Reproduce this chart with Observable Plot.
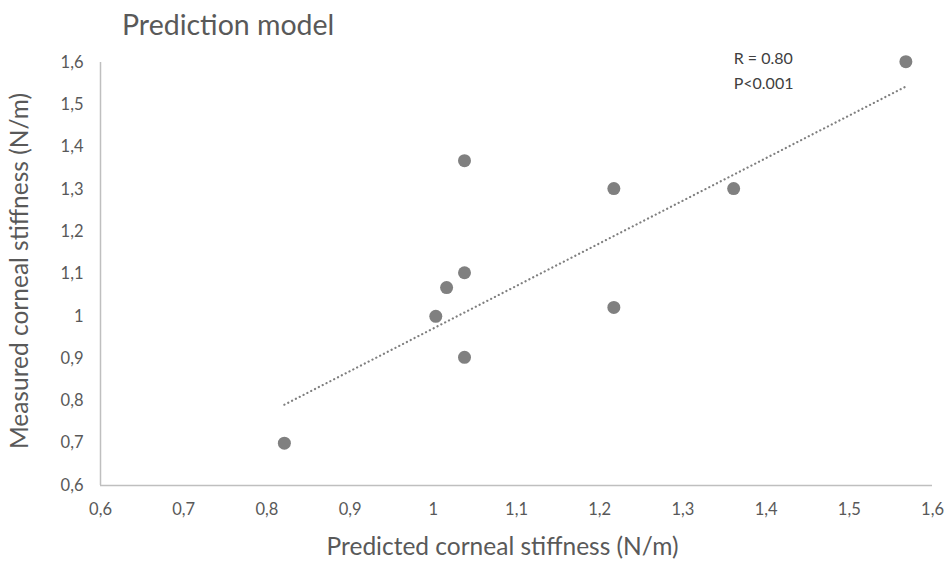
<!DOCTYPE html>
<html>
<head>
<meta charset="utf-8">
<script src="https://cdn.jsdelivr.net/npm/d3@7"></script>
<script src="https://cdn.jsdelivr.net/npm/@observablehq/plot@0.6"></script>
<style>
  html, body { margin: 0; padding: 0; background: #fff; }
  #wrap { position: relative; width: 946px; height: 564px; font-family: Lato, "Open Sans", sans-serif; }
  #title { position: absolute; left: 122px; top: 7px; font-size: 28.5px; color: #595959; }
</style>
</head>
<body>
<div id="wrap"><div id="title">Prediction model</div></div>
<script>
const predicted = [0.821, 1.003, 1.016, 1.0375, 1.0375, 1.0375, 1.217, 1.217, 1.361, 1.568];
const measured  = [0.70, 1.00, 1.068, 1.368, 1.103, 0.903, 1.302, 1.021, 1.302, 1.602];
const xTicks = [0.6, 0.7, 0.8, 0.9, 1.0, 1.1, 1.2, 1.3, 1.4, 1.5, 1.6];
const yTicks = [0.6, 0.7, 0.8, 0.9, 1.0, 1.1, 1.2, 1.3, 1.4, 1.5, 1.6];
const trendSlope = 1.007;
const trendIntercept = -0.0357;
const statLabels = ["R = 0.80", "P<0.001"];
const statY = [1.609, 1.550];
const statX = 1.361;

const points = predicted.map((x, i) => ({x, y: measured[i]}));
const xMin = d3.min(predicted), xMax = d3.max(predicted);
const trend = [xMin, xMax].map(x => ({x, y: trendIntercept + trendSlope * x}));
const fmt = d => String(+d.toFixed(1)).replace(".", ",");

const chart = Plot.plot({
  width: 946,
  height: 564,
  marginLeft: 100,
  marginRight: 14,
  marginTop: 62,
  marginBottom: 79,
  style: {fontFamily: "Lato, 'Open Sans', sans-serif", fontSize: "16px", color: "#595959", background: "white"},
  x: {domain: [0.6, 1.6]},
  y: {domain: [0.6, 1.6]},
  marks: [
    Plot.axisX({ticks: xTicks, tickFormat: fmt, tickSize: 0, tickPadding: 18, label: null, fontSize: 16.5, fill: "#595959"}),
    Plot.axisY({ticks: yTicks, tickFormat: fmt, tickSize: 0, tickPadding: 17, label: null, fontSize: 16.5, fill: "#595959"}),
    Plot.ruleY([0.6], {stroke: "#bfbfbf", strokeWidth: 1.5}),
    Plot.ruleX([0.6], {stroke: "#bfbfbf", strokeWidth: 1.5}),
    Plot.line(trend, {x: "x", y: "y", stroke: "#7f7f7f", strokeWidth: 2.2, strokeDasharray: "0.1,4.2", strokeLinecap: "round"}),
    Plot.dot(points, {x: "x", y: "y", r: 6.5, fill: "#808080", stroke: "none"}),
    Plot.text(statLabels, {x: () => statX, y: (d, i) => statY[i], text: d => d, textAnchor: "start", fontSize: 16, fill: "#404040"}),
    Plot.text(["Predicted corneal stiffness (N/m)"], {frameAnchor: "bottom", dx: -14, dy: 69, textAnchor: "middle", fontSize: 24.5, fill: "#595959"}),
    Plot.text(["Measured corneal stiffness (N/m)"], {frameAnchor: "left", dx: -80, dy: -3, textAnchor: "middle", rotate: -90, fontSize: 24.5, fill: "#595959"})
  ]
});
document.getElementById("wrap").appendChild(chart);
chart.style.position = "absolute";
chart.style.left = "0";
chart.style.top = "0";
document.getElementById("wrap").appendChild(document.getElementById("title"));
</script>
</body>
</html>
